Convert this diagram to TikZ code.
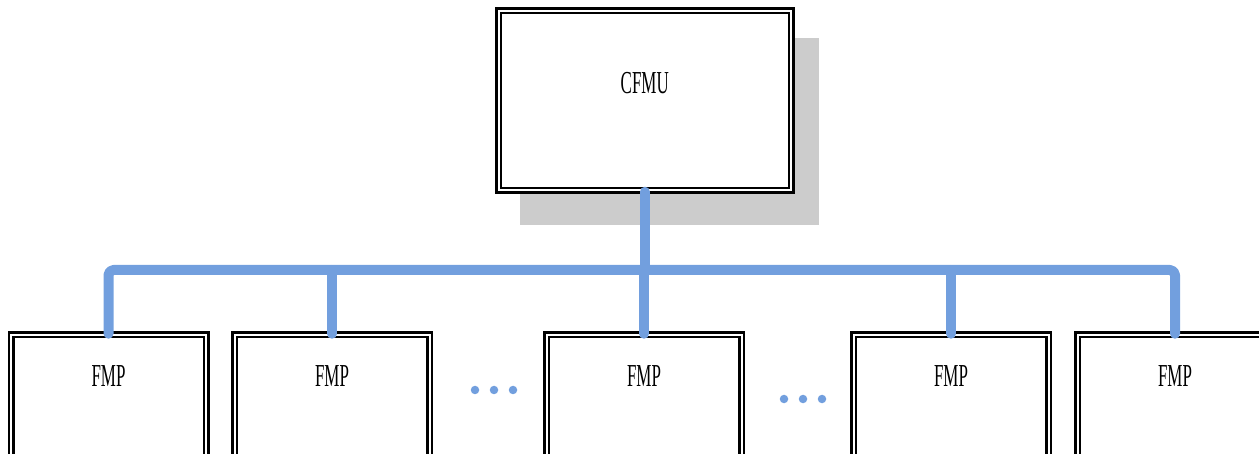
\documentclass[tikz,border=0pt]{standalone}
\usepackage{fontspec}
\newfontfamily\condfont[FakeStretch=0.53]{Liberation Serif}
\definecolor{busblue}{RGB}{114,159,222}
\definecolor{shadowgray}{RGB}{204,204,204}
\begin{document}
\begin{tikzpicture}[x=1pt,y=-1pt,
  dbox/.style={draw=black, line width=2.5pt, double=white, double distance=2pt,
    rectangle, inner sep=0pt, fill=white},
  lbl/.style={font=\condfont\fontsize{32}{32}\selectfont},
  bus/.style={draw=busblue, line width=10pt, line cap=round, line join=round},
  dot/.style={circle, fill=busblue, inner sep=0pt, minimum size=8.5pt}]
\useasboundingbox (0,0) rectangle (1259,454);
% shadow
\fill[shadowgray] (520,38) rectangle (819,225);
% CFMU
\node[dbox, minimum width=292.5pt, minimum height=179.5pt,
  label={[lbl, yshift=18pt]center:CFMU}] (cfmu) at (644.75,100.75) {};
% FMP boxes
\foreach \i/\x in {1/108.5, 2/332, 3/644, 4/951, 5/1175}{
  \node[dbox, minimum width=195pt, minimum height=140pt,
    label={[lbl, yshift=29pt]center:FMP}] (f\i) at (\x,405) {};
}
\coordinate (busy) at (0,270);
% bus
\draw[bus, rounded corners=5pt] (f1.north) -- (f1.north |- busy) -- (f5.north |- busy) -- (f5.north);
\draw[bus] (cfmu.south) -- (cfmu.south |- busy);
\foreach \i in {2,3,4}{
  \draw[bus] (f\i.north |- busy) -- (f\i.north);
}
% ellipsis dots
\node[dot] (d1) at (475,390) {};
\node[dot] (d2) at (494,390) {};
\node[dot] (d3) at (513,390) {};
\node[dot] (d4) at (784,399) {};
\node[dot] (d5) at (803,399) {};
\node[dot] (d6) at (822,399) {};
\end{tikzpicture}
\end{document}
